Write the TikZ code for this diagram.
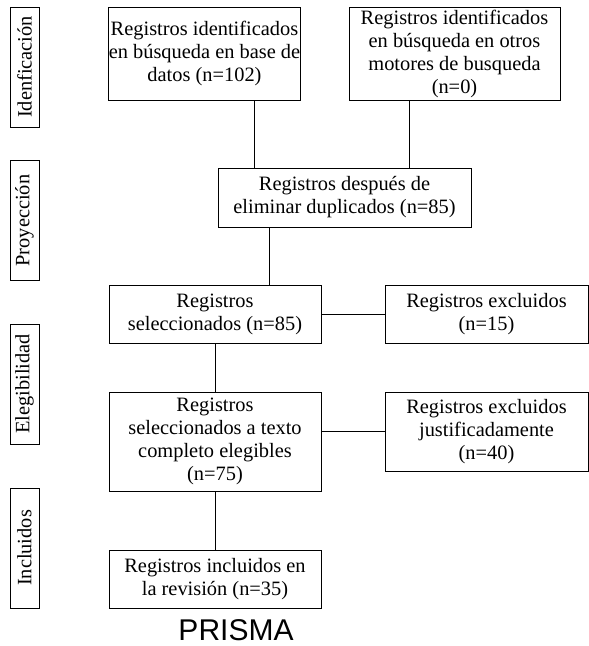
\documentclass[tikz,border=0pt]{standalone}
\usepackage{fontspec}
\setmainfont{Liberation Serif}
\newfontfamily\prismafont{Liberation Sans}
\begin{document}
\begin{tikzpicture}[x=1pt,y=-1pt,
  box/.style={draw,line width=0.9pt,inner sep=0pt,align=center,font=\fontsize{20.4}{23}\selectfont},
  lbl/.style={draw,line width=0.9pt,inner sep=0pt,rotate=90,minimum width=120pt,minimum height=29pt,font=\fontsize{20.4}{23}\selectfont},
  link/.style={line width=0.9pt}]
\useasboundingbox (0,0) rectangle (589,646);
% stage labels
\node[lbl] (l1) at (24.5,67) {Idenficación};
\node[lbl] (l2) at (24.5,220.5) {Proyección};
\node[lbl] (l3) at (24.5,384) {Elegibilidad};
\node[lbl] (l4) at (24.5,548) {Incluidos};
% boxes
\node[box,minimum width=191pt,minimum height=93pt] (b1) at (204.5,53.5) {Registros identificados\\en búsqueda en base de\\datos (n=102)};
\node[box,minimum width=211pt,minimum height=93pt] (b2) at (454.5,53.5) {Registros identificados\\en búsqueda en otros\\motores de busqueda\\(n=0)};
\node[box,minimum width=253pt,minimum height=59pt] (b3) at (344.5,197.5) {Registros después de\\eliminar duplicados (n=85)};
\node[box,minimum width=212pt,minimum height=58pt] (b4) at (215,314) {Registros\\seleccionados (n=85)};
\node[box,minimum width=203pt,minimum height=58pt] (b5) at (486.5,314) {Registros excluidos\\(n=15)};
\node[box,minimum width=212pt,minimum height=99pt] (b6) at (215,441.5) {Registros\\seleccionados a texto\\completo elegibles\\(n=75)};
\node[box,minimum width=203pt,minimum height=79pt] (b7) at (486.5,431.5) {Registros excluidos\\justificadamente\\(n=40)};
\node[box,minimum width=212pt,minimum height=58pt] (b8) at (215,579) {Registros incluidos en\\la revisión (n=35)};
\node[font=\prismafont\fontsize{30}{34}\selectfont,inner sep=0pt] (title) at (236,630) {PRISMA};
% connectors
\draw[link] ([xshift=49.5pt]b1.south) -- ([xshift=49.5pt]b1.south |- b3.north);
\draw[link] ([xshift=-45.5pt]b2.south) -- ([xshift=-45.5pt]b2.south |- b3.north);
\draw[link] ([xshift=-75.5pt]b3.south) -- ([xshift=-75.5pt]b3.south |- b4.north);
\draw[link] (b4.east) -- (b5.west);
\draw[link] (b4.south) -- (b6.north);
\draw[link] (b7.west -| b6.east) -- (b7.west);
\draw[link] (b6.south) -- (b8.north);
\end{tikzpicture}
\end{document}
